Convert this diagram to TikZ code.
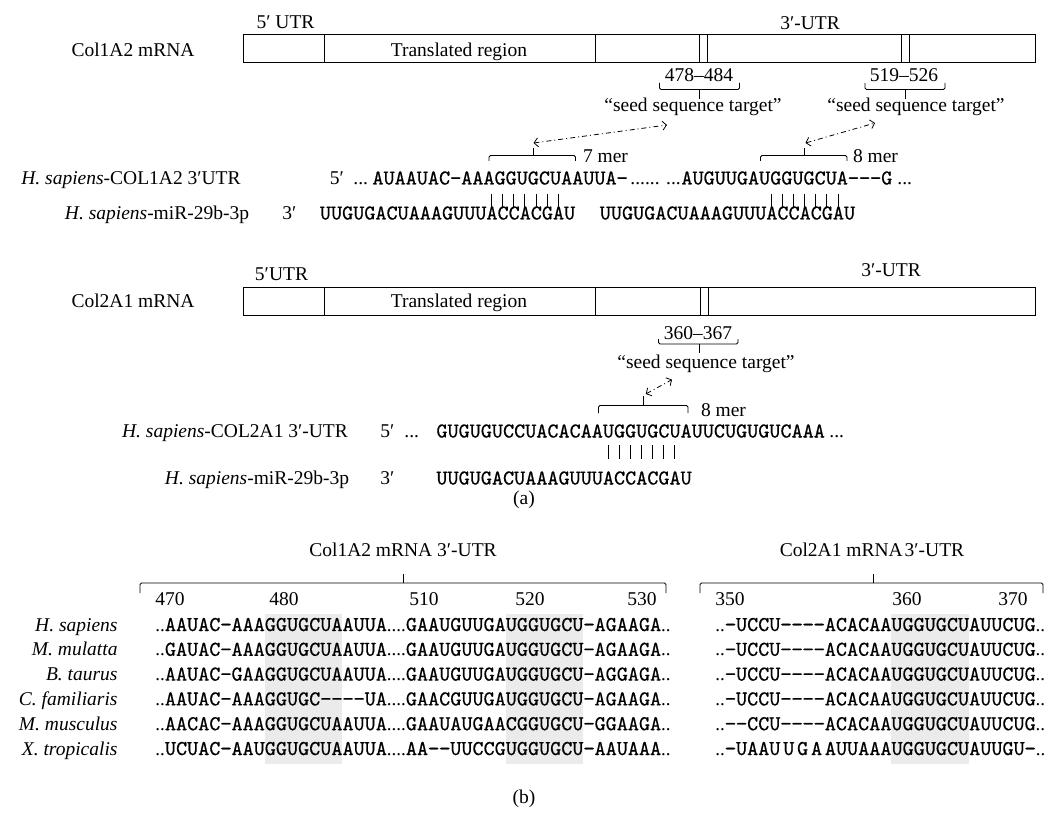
\documentclass[tikz,border=0pt]{standalone}
\usepackage{fontspec}
\setmainfont{Liberation Serif}
\newfontfamily\seqfont{lmmono10-regular.otf}[FakeBold=0.5]
\usetikzlibrary{arrows.meta}
\newcommand{\lblsize}{\fontsize{19.5}{23}\selectfont}
\newcommand{\seqsize}{\seqfont\fontsize{21.14}{25}\selectfont}
\newcommand{\dt}[1]{{\rmfamily\fontsize{19}{23}\selectfont#1}}
\newcommand{\gp}{\kern2.8pt}
\begin{document}
\begin{tikzpicture}[x=1pt,y=-1pt,line width=0.9pt,
  lab/.style={font=\lblsize,inner sep=0pt,anchor=base},
  labw/.style={lab,anchor=base west},
  labe/.style={lab,anchor=base east},
  seq/.style={font=\seqsize,inner sep=0pt,anchor=base west},
  mrna/.style={draw,line width=1pt},
  pair/.style={line width=0.9pt},
  brk/.style={line width=0.9pt,rounded corners=1.5pt},
  link/.style={line width=0.8pt,dash pattern=on 5pt off 3pt on 1pt off 3pt,
    {Straight Barb[length=4pt,width=9pt]}-{Straight Barb[length=4pt,width=9pt]}},
  hl/.style={fill=black!8}]
\useasboundingbox (0,0) rectangle (1049,818);

% ---------------- (a) Col1A2 ----------------
\node[lab] (utr5a) at (285.5,28.5) {5′ UTR};
\node[lab] (utr3a) at (810,29.5) {3′-UTR};
\node[lab] (col1) at (133,56.5) {Col1A2 mRNA};
\draw[mrna] (243,35) rectangle (1035,63);
\draw[mrna] (324,35)--(324,63) (595,35)--(595,63) (699,35)--(699,63) (707.5,35)--(707.5,63)
  (901,35)--(901,63) (909.5,35)--(909.5,63);
\node[lab] (tra) at (459,56.5) {Translated region};

\node[lab] (rg1) at (699,82) {478–484};
\draw[brk] (659.5,83) -- (659.5,89.5) -- (739.5,89.5) -- (739.5,83);
\coordinate (bt1) at (699,99.5);
\draw (699,89.5) -- (bt1);
\node[lab] (sd1) at (693,112) {“seed sequence target”};
\node[lab] (rg2) at (904,82) {519–526};
\draw[brk] (865,83) -- (865,89.5) -- (945,89.5) -- (945,83);
\coordinate (bt2) at (905,99.5);
\draw (905,89.5) -- (bt2);
\node[lab] (sd2) at (916,112) {“seed sequence target”};

\coordinate (a1l) at (533.5,143);
\coordinate (a1r) at (667,125);
\draw[link] (a1l) -- (a1r);
\coordinate (a2l) at (805.5,143);
\coordinate (a2r) at (875,123);
\draw[link] (a2l) -- (a2r);

\draw[brk] (489,161) -- (489,155.5) -- (575.5,155.5) -- (575.5,161);
\draw (533,155.5) -- (533,148.5);
\node[lab] (m7) at (605.5,163) {7 mer};
\draw[brk] (760.5,161) -- (760.5,155.5) -- (847,155.5) -- (847,161);
\draw (804,155.5) -- (804,148.5);
\node[lab] (m8a) at (875.5,163) {8 mer};

\node[lab] (hs1) at (131,184.5) {\textit{H. sapiens}-COL1A2 3′UTR};
\node[labw] (p5a) at (329.5,184.5) {5′};
\node[labw] (d1) at (353,184.5) {...};
\node[seq] (t1) at (372,184.5) {AUAAUAC−AAAGGUGCUAAUUA−};
\node[labw] (d2) at (630,184.5) {...... ...};
\node[seq] (t2) at (681,184.5) {AUGUUGAUGGUGCUA−−−G};
\node[labw] (d3) at (897,184.5) {...};
\foreach \i in {0,...,6} {
  \draw[pair] ({491.6+11.1*\i},194) -- ++(0,13);
  \draw[pair] ({771.4+11.1*\i},194) -- ++(0,13);
}
\node[lab] (mi1) at (157,219.5) {\textit{H. sapiens}-miR-29b-3p};
\node[labw] (p3a) at (282,219.5) {3′};
\node[seq] (q1) at (319.5,219.5) {UUGUGACUAAAGUUUACCACGAU};
\node[seq] (q2) at (599.4,219.5) {UUGUGACUAAAGUUUACCACGAU};

% ---------------- (a) Col2A1 ----------------
\node[lab] (utr5b) at (281.5,280.5) {5′UTR};
\node[lab] (utr3b) at (891,276.5) {3′-UTR};
\node[lab] (col2) at (133,308) {Col2A1 mRNA};
\draw[mrna] (243,288) rectangle (1035,315.5);
\draw[mrna] (324,288)--(324,315.5) (595.5,288)--(595.5,315.5) (700,288)--(700,315.5) (708,288)--(708,315.5);
\node[lab] (trb) at (459,308) {Translated region};

\node[lab] (rg3) at (698,339.5) {360–367};
\draw[brk] (658.5,339) -- (658.5,344) -- (738,344) -- (738,339);
\draw (699,344) -- (699,352.5);
\node[lab] (sd3) at (706,368.5) {“seed sequence target”};
\coordinate (a3l) at (645.8,394);
\coordinate (a3r) at (672,379.6);
\draw[link] (a3l) -- (a3r);
\draw[brk] (598.5,413) -- (598.5,405.5) -- (688,405.5) -- (688,413);
\draw (643.5,405.5) -- (643.5,396);
\node[lab] (m8b) at (723.5,416) {8 mer};

\node[lab] (hs2) at (235,437.5) {\textit{H. sapiens}-COL2A1 3′-UTR};
\node[labw] (p5b) at (380,437.5) {5′};
\node[labw] (d4) at (404,437.5) {...};
\node[seq] (t3) at (436,437.5) {GUGUGUCCUACACAAUGGUGCUAUUCUGUGUCAAA};
\node[labw] (d5) at (829,437.5) {...};
\foreach \i in {0,...,6} {
  \draw[pair] ({608+11.1*\i},445) -- ++(0,14);
}
\node[lab] (mi2) at (257,484.5) {\textit{H. sapiens}-miR-29b-3p};
\node[labw] (p3b) at (380,484.5) {3′};
\node[seq] (q3) at (436,484.5) {UUGUGACUAAAGUUUACCACGAU};
\node[lab] (capa) at (524,504) {(a)};

% ---------------- (b) ----------------
\fill[hl] (264.5,614) rectangle (342.2,764);
\fill[hl] (505.5,614) rectangle (583.2,764);
\fill[hl] (891,614) rectangle (968.7,764);

\node[lab] (ttl) at (403,556) {Col1A2 mRNA 3′-UTR};
\node[lab] (ttr) at (872,556) {Col2A1 mRNA\kern2pt 3′-UTR};
\draw[brk] (140,593) -- (140,583) -- (666,583) -- (666,593);
\draw (403,583) -- (403,574);
\draw[brk] (700,593) -- (700,583) -- (1043,583) -- (1043,593);
\draw (873,583) -- (873,574);

\node[lab] (n470) at (170,605) {470};
\node[lab] (n480) at (284,605) {480};
\node[lab] (n510) at (424,605) {510};
\node[lab] (n520) at (530,605) {520};
\node[lab] (n530) at (642,605) {530};
\node[lab] (n350) at (730,605) {350};
\node[lab] (n360) at (907,605) {360};
\node[lab] (n370) at (1013,605) {370};

\node[labe] (sp1) at (118,631) {\textit{H. sapiens}};
\node[labe] (sp2) at (118,655.8) {\textit{M. mulatta}};
\node[labe] (sp3) at (118,680.6) {\textit{B. taurus}};
\node[labe] (sp4) at (118,705.4) {\textit{C. familiaris}};
\node[labe] (sp5) at (118,730.2) {\textit{M. musculus}};
\node[labe] (sp6) at (118,755) {\textit{X. tropicalis}};

\node[seq] (l1) at (155,631) {\dt{..}AAUAC−AAAGGUGCUAAUUA\dt{....}GAAUGUUGAUGGUGCU−AGAAGA\dt{..}};
\node[seq] (l2) at (155,655.8) {\dt{..}GAUAC−AAAGGUGCUAAUUA\dt{....}GAAUGUUGAUGGUGCU−AGAAGA\dt{..}};
\node[seq] (l3) at (155,680.6) {\dt{..}AAUAC−GAAGGUGCUAAUUA\dt{....}GAAUGUUGAUGGUGCU−AGGAGA\dt{..}};
\node[seq] (l4) at (155,705.4) {\dt{..}AAUAC−AAAGGUGC−−−−UA\dt{....}GAACGUUGAUGGUGCU−AGAAGA\dt{..}};
\node[seq] (l5) at (155,730.2) {\dt{..}AACAC−AAAGGUGCUAAUUA\dt{....}GAAUAUGAACGGUGCU−GGAAGA\dt{..}};
\node[seq] (l6) at (155,755) {\dt{..}UCUAC−AAUGGUGCUAAUUA\dt{....}AA−−UUCCGUGGUGCU−AAUAAA\dt{..}};

\node[seq] (r1) at (715,631) {\dt{..}−UCCU−−−−ACACAAUGGUGCUAUUCUG\dt{..}};
\node[seq] (r2) at (715,655.8) {\dt{..}−UCCU−−−−ACACAAUGGUGCUAUUCUG\dt{..}};
\node[seq] (r3) at (715,680.6) {\dt{..}−UCCU−−−−ACACAAUGGUGCUAUUCUG\dt{..}};
\node[seq] (r4) at (715,705.4) {\dt{..}−UCCU−−−−ACACAAUGGUGCUAUUCUG\dt{..}};
\node[seq] (r5) at (715,730.2) {\dt{..}−−CCU−−−−ACACAAUGGUGCUAUUCUG\dt{..}};
\node[seq] (r6) at (715,755) {\dt{..}−UAAU\gp U\gp G\gp A\gp AUUAAAUGGUGCUAUUGU−\dt{..}};

\node[lab] (capb) at (524,803) {(b)};
\end{tikzpicture}
\end{document}
